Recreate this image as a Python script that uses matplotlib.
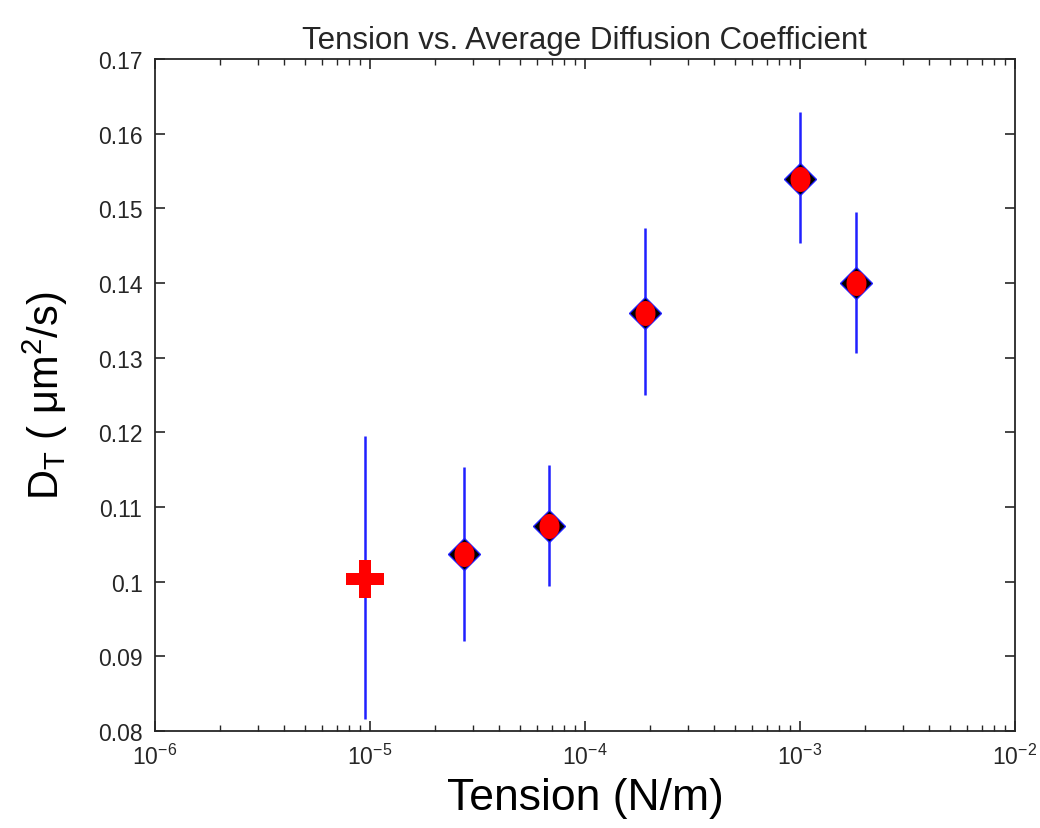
import matplotlib
matplotlib.use("Agg")
import matplotlib.pyplot as plt
from matplotlib.ticker import FixedLocator, FixedFormatter
import numpy as np

plt.rcParams['font.family'] = ['Liberation Sans', 'DejaVu Sans']
plt.rcParams['mathtext.fontset'] = 'custom'
plt.rcParams['mathtext.rm'] = 'Liberation Sans'
plt.rcParams['mathtext.it'] = 'Liberation Sans'

# Dane
napiecie = [9.5e-6, 2.73e-5, 6.8e-5, 1.9e-4, 1.0e-3, 1.82e-3]
dyfuzja = [0.1004, 0.1037, 0.1075, 0.1360, 0.1539, 0.1400]
blad_dol = [0.0188, 0.0116, 0.0081, 0.0110, 0.0085, 0.0094]
blad_gora = [0.0191, 0.0117, 0.0081, 0.0114, 0.0090, 0.0095]

y_ticki = [0.08, 0.09, 0.10, 0.11, 0.12, 0.13, 0.14, 0.15, 0.16, 0.17]
y_etykiety = ['0.08', '0.09', '0.1', '0.11', '0.12', '0.13',
              '0.14', '0.15', '0.16', '0.17']
x_ticki = [1e-6, 1e-5, 1e-4, 1e-3, 1e-2]
x_etykiety = [r'$\mathregular{10^{-6}}$', r'$\mathregular{10^{-5}}$',
              r'$\mathregular{10^{-4}}$', r'$\mathregular{10^{-3}}$',
              r'$\mathregular{10^{-2}}$']

KOLOR_TEKSTU = '#262626'

fig = plt.figure(figsize=(10.4, 8.29), dpi=100)
ax = fig.add_axes([155 / 1040, 1 - 732 / 829, 860 / 1040, 672 / 829])

ax.errorbar(napiecie, dyfuzja, yerr=[blad_dol, blad_gora], fmt='none',
            ecolor='#2020ff', elinewidth=1.8, capsize=0, zorder=2)

# Pierwszy punkt: czerwony plus
ax.plot(napiecie[0], dyfuzja[0], marker='P', color='red', markersize=28,
        markeredgewidth=0, linestyle='none', zorder=4)

# Pozostałe: romb z czerwoną elipsą
ax.plot(napiecie[1:], dyfuzja[1:], marker='D', markerfacecolor='black',
        markeredgecolor='#2020ff', markersize=16, markeredgewidth=1,
        linestyle='none', zorder=3)
t = np.linspace(0, 2 * np.pi, 40)
elipsa = np.column_stack([0.8 * np.cos(t), np.sin(t)])
ax.plot(napiecie[1:], dyfuzja[1:], marker=elipsa, color='red', markersize=18,
        markeredgewidth=0, linestyle='none', zorder=4)

ax.set_xscale('log')
ax.set_xlim(1e-6, 1e-2)
ax.set_ylim(0.08, 0.17)
ax.set_yticks(y_ticki)
ax.set_yticklabels(y_etykiety)
ax.xaxis.set_major_locator(FixedLocator(x_ticki))
ax.xaxis.set_major_formatter(FixedFormatter(x_etykiety))

ax.tick_params(which='both', direction='in', top=True, right=True,
               labelsize=16.5, colors=KOLOR_TEKSTU)
ax.tick_params(which='major', length=7, width=1.2, pad=9)
ax.tick_params(which='minor', length=4, width=1.0)
for s in ax.spines.values():
    s.set_linewidth(1.3)
    s.set_color(KOLOR_TEKSTU)

ax.set_title('Tension vs. Average Diffusion Coefficient', fontsize=22.5,
             pad=8, color=KOLOR_TEKSTU)
ax.set_xlabel('Tension (N/m)', fontsize=32, labelpad=6, color='black')
ax.set_ylabel(r'D$_\mathregular{T}$ ( $\mathregular{\mu m^2/s}$)',
              fontsize=30, labelpad=20, color='black')

fig.savefig('out.png', dpi=100)
